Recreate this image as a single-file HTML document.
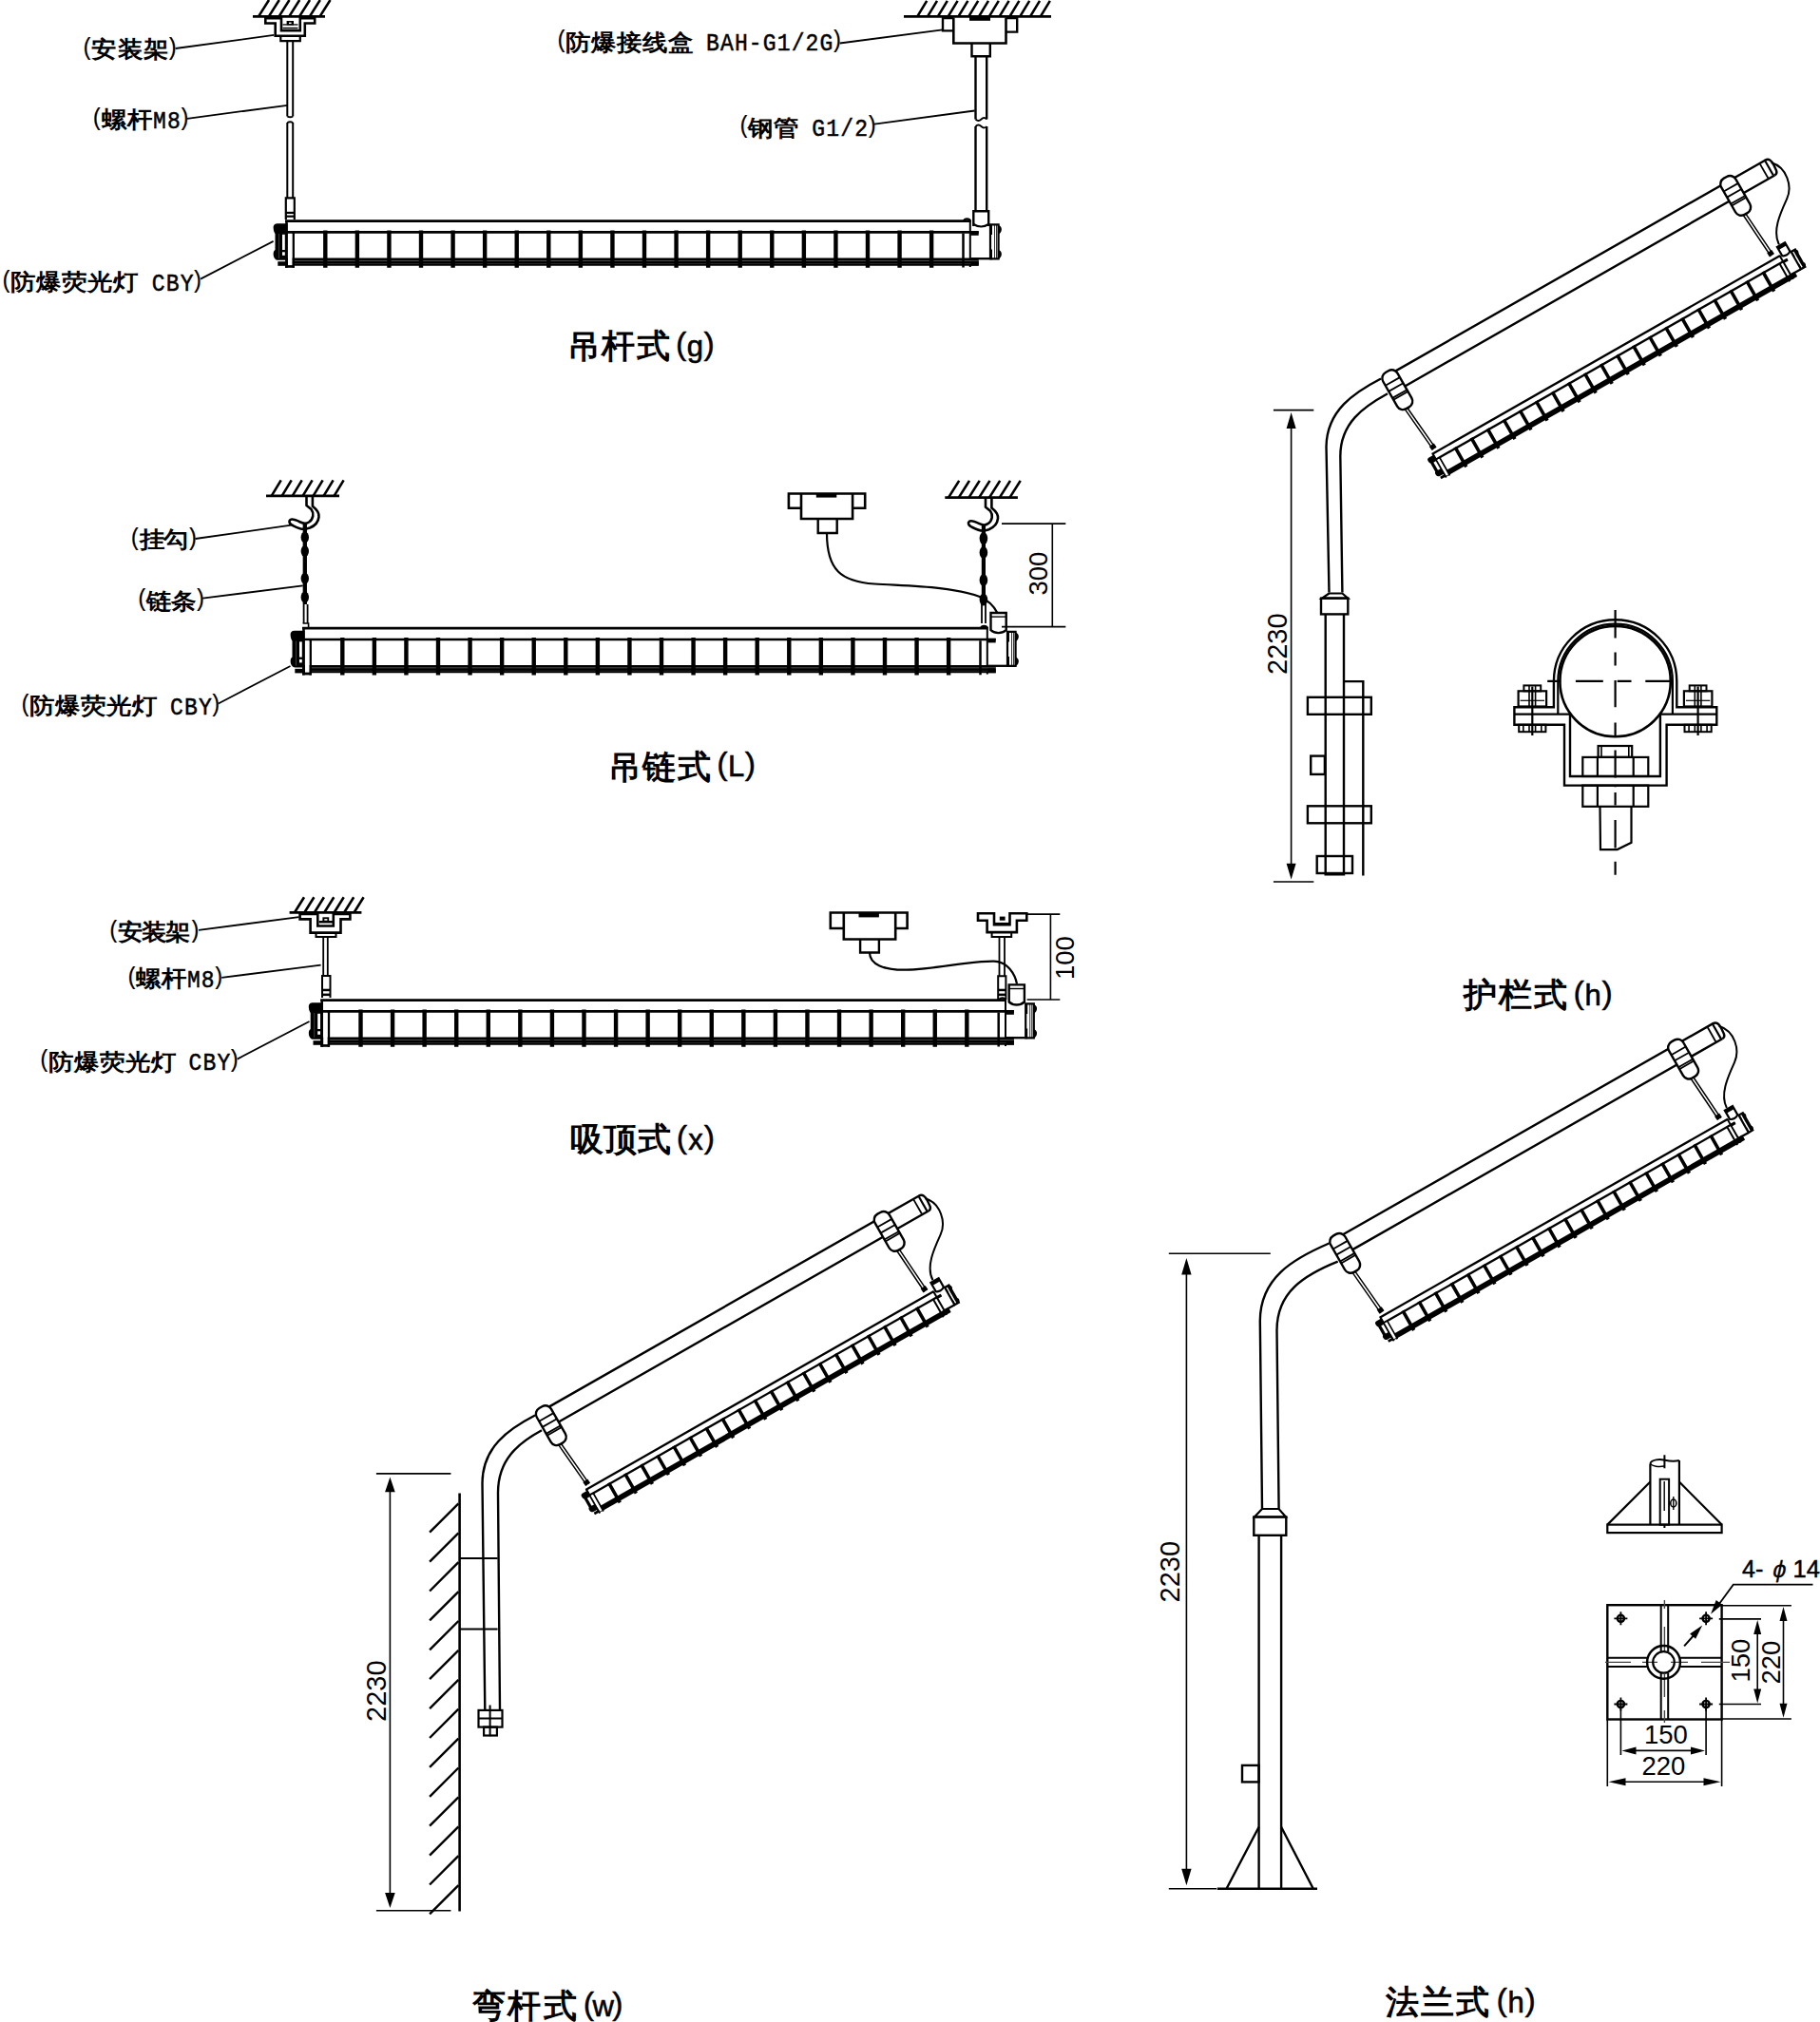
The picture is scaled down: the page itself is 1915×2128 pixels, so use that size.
<!DOCTYPE html>
<html><head><meta charset="utf-8"><title>fixtures</title>
<style>
html,body{margin:0;padding:0;background:#fff;}
body{width:1915px;height:2128px;position:relative;overflow:hidden;}
svg{position:absolute;left:0;top:0;}
</style></head><body>
<svg width="1915" height="2128" viewBox="0 0 1915 2128">
<defs><g id="lamp" fill="none" stroke="#000"><path d="M0.00,0.60H721.50" stroke-width="2.8"/><path d="M714.00,0.60c1.00-3.00 6.00-3.00 7.00,0.00" stroke-width="2.2"/><path d="M720.80,0.00V49.00" stroke-width="2"/><path d="M0.00,12.40H729.70" stroke-width="2.6"/><path d="M0.00,39.50H729.70V47.70H0.00Z" fill="#000" stroke="none"/><path d="M0.00,41.90H729.70V42.70H0.00Z" fill="#666" stroke="none"/><path d="M0.00,45.10H729.70V45.80H0.00Z" fill="#333" stroke="none"/><path d="M1.50,0.00V49.80M8.70,12.00V49.80M713.50,13.60V49.60" stroke-width="2.5"/><path d="M42.30,10.40V49.80M75.87,10.40V49.80M109.44,10.40V49.80M143.01,10.40V49.80M176.58,10.40V49.80M210.15,10.40V49.80M243.72,10.40V49.80M277.29,10.40V49.80M310.86,10.40V49.80M344.43,10.40V49.80M378.00,10.40V49.80M411.57,10.40V49.80M445.14,10.40V49.80M478.71,10.40V49.80M512.28,10.40V49.80M545.85,10.40V49.80M579.42,10.40V49.80M612.99,10.40V49.80M646.56,10.40V49.80M680.13,10.40V49.80" stroke-width="4.4"/><path d="M0.00,48.60H9.70" stroke-width="2.4"/><path d="M2.60,3.20H-8.50C-12.00,3.50 -12.50,6.00 -12.30,8.50C-12.20,11.50 -11.00,13.00 -10.50,14.00V31.00C-12.20,32.00 -12.50,34.00 -12.30,36.50C-12.00,39.50 -10.00,41.80 -7.50,41.80H2.60Z" fill="#000" stroke="none"/><path d="M-3.00,14.80H-0.20V31.00H-3.00Z" fill="#fff" stroke="none"/><path d="M-3.00,33.30H-0.20V36.80H-3.00Z" fill="#fff" stroke="none"/><path d="M-6.50,14.00V40.00" stroke-width="0.6" stroke="#666"/><path d="M3.00,14.00H7.40V47.00H3.00Z" fill="#fff" stroke="none"/><path d="M-7.70,43.20H2.60V47.80H-7.70Z" fill="#000" stroke="none"/><path d="M721.40,11.30H729.70V15.80H721.40Z" fill="#000" stroke="none"/><path d="M721.40,42.90H729.70V47.60H721.40Z" fill="#000" stroke="none"/><path d="M721.80,40.20H741.20" stroke-width="2.3"/><path d="M742.00,4.30H750.60V40.30H742.00Z" stroke-width="2.2"/><path d="M750.50,5.00C753.50,6.00 754.00,8.00 753.80,10.00C753.50,12.50 752.00,14.00 750.50,14.50ZM750.50,31.00C753.50,32.00 754.00,34.00 753.80,36.00C753.50,38.50 752.00,40.00 750.50,40.50Z" fill="#000" stroke="none"/><path d="M742.00,4.30V15.00H744.00V4.30ZM742.00,30.50V41.30H744.00V30.50Z" fill="#000" stroke="none"/><path d="M746.50,5.00V40.00M748.50,5.00V40.00" stroke-width="0.8"/></g><g id="lampS" fill="none" stroke="#000"><path d="M0.00,0.35H421.72" stroke-width="2.3"/><path d="M421.31,0.00V28.64" stroke-width="2"/><path d="M0.00,7.25H426.51" stroke-width="2.3"/><path d="M0.00,22.50H426.51V28.35H0.00Z" fill="#000" stroke="none"/><path d="M0.88,0.00V29.11M5.09,7.01V29.11M417.04,7.95V28.99" stroke-width="2.0"/><path d="M24.72,6.08V29.81M44.35,6.08V29.81M63.97,6.08V29.81M83.59,6.08V29.81M103.21,6.08V29.81M122.83,6.08V29.81M142.45,6.08V29.81M162.08,6.08V29.81M181.70,6.08V29.81M201.32,6.08V29.81M220.94,6.08V29.81M240.56,6.08V29.81M260.18,6.08V29.81M279.81,6.08V29.81M299.43,6.08V29.81M319.05,6.08V29.81M338.67,6.08V29.81M358.29,6.08V29.81M377.91,6.08V29.81M397.54,6.08V29.81" stroke-width="3.6"/><path d="M1.52,1.87H-4.97C-7.01,2.05 -7.31,3.51 -7.19,4.97C-7.13,6.72 -6.43,7.60 -6.14,8.18V18.12C-7.13,18.70 -7.31,19.87 -7.19,21.33C-7.01,23.09 -5.85,24.43 -4.38,24.43H1.52Z" fill="#000" stroke="none"/><path d="M-2.92,8.65H-0.12V18.12H-2.92Z" fill="#fff" stroke="none"/><path d="M1.75,8.18H4.33V27.47H1.75Z" fill="#fff" stroke="none"/><path d="M-4.50,25.25H1.52V27.94H-4.50Z" fill="#000" stroke="none"/><path d="M421.66,6.60H426.51V9.24H421.66Z" fill="#000" stroke="none"/><path d="M421.66,25.08H426.51V27.82H421.66Z" fill="#000" stroke="none"/><path d="M421.89,23.50H433.23" stroke-width="2.3"/><path d="M433.70,2.51H438.73V23.56H433.70Z" stroke-width="2.2"/><path d="M438.67,2.92C440.42,3.51 440.71,4.68 440.60,5.85C440.42,7.31 439.54,8.18 438.67,8.48ZM438.67,18.12C440.42,18.70 440.71,19.87 440.60,21.04C440.42,22.50 439.54,23.38 438.67,23.67Z" fill="#000" stroke="none"/><path d="M433.70,2.51V8.77H434.87V2.51ZM433.70,17.83V24.14H434.87V17.83Z" fill="#000" stroke="none"/><path d="M436.33,2.51H438.96V23.56H436.33Z" fill="#000" stroke="none"/></g><g id="conn" fill="none" stroke="#000"><path d="M724.5,-15.6H740.7V2.5C736,6.5 729,6.5 724.5,2.5Z" stroke-width="2.4"/><path d="M724.5,-11.5H740.7" stroke-width="1.4"/></g><g id="connS" fill="none" stroke="#000"><path d="M423.47,-9.12H432.94V1.46C430.19,3.80 426.10,3.80 423.47,1.46Z" stroke-width="2.2"/><path d="M423.47,-9.12H432.94V-5.55H423.47Z" fill="#000" stroke="none"/></g></defs>
<rect width="1915" height="2128" fill="#fff"/>
<g fill="none" stroke="#000" stroke-linecap="butt">
<path d="M266,17.4H342" stroke-width="2.8"/>
<path d="M272.0,17.4L283.0,0.0M282.8,17.4L293.8,0.0M293.5,17.4L304.5,0.0M304.2,17.4L315.2,0.0M315.0,17.4L326.0,0.0M325.8,17.4L336.8,0.0M336.5,17.4L347.5,0.0" stroke-width="2.6"/>
<path d="M279.3,19.3H296V32.2H315.8V19.3H331.2V24.5H320.8V37.8H289.7V24.5H279.3Z" stroke-width="2.6"/>
<rect x="301.6" y="22" width="7.4" height="4.4" fill="#000" stroke="none"/><rect x="304" y="23.6" width="2.6" height="1.5" fill="#fff" stroke="none"/>
<rect x="297.5" y="25.3" width="16" height="1.3" fill="#000" stroke="none"/>
<rect x="297.5" y="28.8" width="16" height="1.6" fill="#000" stroke="none"/>
<path d="M295.3,39V43.2H315.8V39" stroke-width="2.2"/>
<path d="M302.3,43V122.5M308.2,43V122.5M302.3,129V208M308.2,129V208" stroke-width="2"/>
<path d="M302.3,122.5q3,1.5 5.9,0M302.3,129q3,-1.5 5.9,0" stroke-width="1.8"/>
<path d="M300.8,231V208.3H309.8V231" stroke-width="2.2"/>
<rect x="301" y="222.8" width="8.6" height="2.2" fill="#000" stroke="none"/><rect x="301" y="226.6" width="8.6" height="2.2" fill="#000" stroke="none"/>
<path d="M951,17.4H1106" stroke-width="2.8"/>
<path d="M965.2,17.4L975.2,0.9M976.0,17.4L986.0,0.9M986.8,17.4L996.8,0.9M997.6,17.4L1007.6,0.9M1008.4,17.4L1018.4,0.9M1019.2,17.4L1029.2,0.9M1030.0,17.4L1040.0,0.9M1040.8,17.4L1050.8,0.9M1051.6,17.4L1061.6,0.9M1062.4,17.4L1072.4,0.9M1073.2,17.4L1083.2,0.9M1084.0,17.4L1094.0,0.9M1094.8,17.4L1104.8,0.9" stroke-width="2.6"/>
<path d="M1003.3,18.5V45.5H1058.5V18.5" stroke-width="2.6"/>
<path d="M1003.3,19H992V32.4H1003.3M1058.5,19H1070.2V33.6H1058.5" stroke-width="2.4"/>
<rect x="1020" y="17.4" width="22" height="4.4" fill="#000" stroke="none"/>
<path d="M1022.5,46V59.2H1041.8V46" stroke-width="2.4"/>
<path d="M1026.5,59.2V125.5M1038.2,59.2V125.5M1026.5,133V221M1038.2,133V221" stroke-width="2.4"/>
<path d="M1026.5,125.5q3,3 6,0t5.7,0M1026.5,133q3,-3 6,0t5.7,0" stroke-width="1.8"/>
<path d="M1024.3,238V222.2H1040.2V238" stroke-width="2.4"/>
<path d="M1024.3,236q8,5 15.9,0" stroke-width="2.2"/>
<use href="#lamp" transform="translate(300,232)"/>
<path d="M184.6,51L288.3,36.9M197,124.8L302.4,110.8M211,293.6L287.6,253.9M883.6,45.5L991.7,31.4M920,130.6L1025.6,116.5" stroke-width="1.8"/>
<path d="M280,521.9H357" stroke-width="2.8"/>
<path d="M285.7,521.9L295.7,505.4M296.7,521.9L306.7,505.4M307.7,521.9L317.7,505.4M318.6,521.9L328.6,505.4M329.6,521.9L339.6,505.4M340.6,521.9L350.6,505.4M351.6,521.9L361.6,505.4" stroke-width="2.6"/>
<path d="M322.5,522.5V532L327.5,536C330.5,540 330,546 325,549.5C322,551.5 319,551 316,549.5C312,547.5 308,545.5 305.5,547C303.5,548.5 304.5,551 307,552.5C311,554.5 315,557 320,556.8" stroke-width="2.6"/><path d="M328.9,522.5V532.8C333,536 336,540 335.5,544C335,549 331,553.5 326,555.5C323,556.5 321,556.8 320,556.8" stroke-width="2.6"/>
<path d="M320.8,551V636" stroke-width="4.3"/>
<ellipse cx="320.8" cy="565.4" rx="4.2" ry="6" fill="#000" stroke="none"/>
<ellipse cx="320.8" cy="580.0" rx="4.2" ry="6" fill="#000" stroke="none"/>
<ellipse cx="320.8" cy="608.7" rx="4.2" ry="6" fill="#000" stroke="none"/>
<ellipse cx="320.8" cy="628.5" rx="4.2" ry="6" fill="#000" stroke="none"/>
<path d="M319.6,636V656M323.6,636V656" stroke-width="1.8"/>
<path d="M318.6,656H324.6V660" stroke-width="1.6"/>
<path d="M994.3,523.6H1070.9" stroke-width="2.8"/>
<path d="M998.0,523.6L1009.2,505.9M1008.8,523.6L1020.0,505.9M1019.5,523.6L1030.7,505.9M1030.2,523.6L1041.5,505.9M1041.0,523.6L1052.2,505.9M1051.8,523.6L1063.0,505.9M1062.5,523.6L1073.7,505.9" stroke-width="2.6"/>
<g transform="translate(714.5,1.7)"><path d="M322.5,522.5V532L327.5,536C330.5,540 330,546 325,549.5C322,551.5 319,551 316,549.5C312,547.5 308,545.5 305.5,547C303.5,548.5 304.5,551 307,552.5C311,554.5 315,557 320,556.8" stroke-width="2.6"/><path d="M328.9,522.5V532.8C333,536 336,540 335.5,544C335,549 331,553.5 326,555.5C323,556.5 321,556.8 320,556.8" stroke-width="2.6"/></g>
<path d="M1034.9,552V636" stroke-width="4.2"/>
<ellipse cx="1034.9" cy="566.6" rx="4.3" ry="6.5" fill="#000" stroke="none"/>
<ellipse cx="1034.9" cy="581.5" rx="4.3" ry="6.5" fill="#000" stroke="none"/>
<ellipse cx="1034.9" cy="610.5" rx="4.3" ry="6.5" fill="#000" stroke="none"/>
<ellipse cx="1034.9" cy="631.0" rx="4.3" ry="6.5" fill="#000" stroke="none"/>
<path d="M1033,636V656M1037,636V656" stroke-width="1.8"/>
<path d="M843,519.5V546H897.1V519.5H843ZM843,519.5H829.9V534.8H843M897.1,519.5H910.2V534.8H897.1" stroke-width="2.6"/>
<rect x="858.8" y="519" width="21.5" height="4.6" fill="#000" stroke="none"/>
<path d="M860.7,546V561H880.7V546" stroke-width="2.4"/>
<path d="M870,561C870,600 885,612 920,614.5C960,617 1000,617 1031.6,628.2C1040,632 1046,638 1049.4,645" stroke-width="2.2"/>
<use href="#lamp" transform="translate(318,660.6)"/>
<use href="#conn" transform="translate(318,660.6)"/>
<path d="M1054,551.1H1121.3M1054,659.6H1121.3M1107.3,551.1V659.6" stroke-width="1.6"/>
<path d="M205.5,567L306.6,552.6M213.2,629.6L318.7,616.4M229.7,740.5L305.5,701" stroke-width="1.8"/>
<path d="M304.6,960.3H380.4" stroke-width="2.8"/>
<path d="M310.0,960.3L320.0,944.3M320.4,960.3L330.4,944.3M330.9,960.3L340.9,944.3M341.3,960.3L351.3,944.3M351.7,960.3L361.7,944.3M362.2,960.3L372.2,944.3M372.6,960.3L382.6,944.3" stroke-width="2.6"/>
<path d="M315.6,962H334.3V974.5H350.8V962H368.4V967.4H358.5V981.6H326.6V967.4H315.6Z" stroke-width="2.6"/>
<rect x="339.4" y="965.3" width="6.8" height="3.9" fill="#000" stroke="none"/><rect x="341.3" y="967.1" width="3.1" height="1.6" fill="#fff" stroke="none"/>
<rect x="335.7" y="969" width="15.5" height="2.5" fill="#000" stroke="none"/>
<path d="M332.5,982V986H353.5V982" stroke-width="2"/>
<path d="M340.2,986V1026.7M344.8,986V1026.7" stroke-width="1.8"/>
<path d="M339,1050V1027H347.5V1050" stroke-width="2"/>
<rect x="339" y="1040.7" width="8.5" height="2.5" fill="#000" stroke="none"/><rect x="339" y="1045.6" width="8.5" height="2.5" fill="#000" stroke="none"/>
<path d="M1029,961.3H1046V973.2H1062.5V961.3H1080.3V968.7H1069.9V981.1H1038.6V968.7H1029Z" stroke-width="2.6"/>
<rect x="1051.8" y="964.6" width="5.8" height="4.1" fill="#000" stroke="none"/>
<path d="M1046,971.5H1062.5" stroke-width="1.2"/>
<path d="M1043.6,982V986H1064.2V982" stroke-width="2"/>
<path d="M1051.5,986V1027M1057,986V1027" stroke-width="1.8"/>
<path d="M1050.2,1052V1027.2H1058.4V1052" stroke-width="2"/>
<rect x="1050.3" y="1040.7" width="8" height="2.5" fill="#000" stroke="none"/><rect x="1050.3" y="1045.6" width="8" height="2.5" fill="#000" stroke="none"/>
<path d="M887.8,960.5V988.5H942.2V960.5H887.8ZM887.8,960.5H873.8V977H887.8M942.2,960.5H954.6V977H942.2" stroke-width="2.6"/>
<rect x="903.5" y="960" width="21.4" height="5.4" fill="#000" stroke="none"/>
<path d="M905.1,988.5V1002.5H924.9V988.5" stroke-width="2.4"/>
<path d="M915,1002.5C915,1015 930,1021 953.7,1020.7C985,1020 1020,1011 1046,1011.6C1060,1012 1068,1025 1070,1035.5" stroke-width="2.2"/>
<use href="#lamp" transform="translate(337.2,1052)"/>
<use href="#conn" transform="translate(337.2,1052)"/>
<path d="M1080.6,962.1H1115.3M1080.6,1052H1115.3M1105.4,962.1V1052" stroke-width="1.6"/>
<path d="M209,978.8L314.5,965.2M233.2,1028.9L337.6,1015.7M249.7,1114.6L325.5,1075" stroke-width="1.8"/>
<g transform="translate(1505.10,476.90) rotate(-29.70)"><path d="M0,-93.3H459M0,-74.5H459.5" stroke-width="2.4"/><path d="M458.5,-93.3C463,-93.5 464.5,-90 464,-84L463.5,-78C463,-75 461.5,-74.5 459.5,-74.5" stroke-width="2.4"/><path d="M452,-92.5V-75.3" stroke-width="1.8"/><path d="M458.3,-92.5V-75.3" stroke-width="2.2"/><path d="M-0.39,-52.86L4.31,-1.86M2.59,-53.14L7.29,-2.14" stroke-width="1.5"/><g transform="translate(5.80,-2.00) rotate(-5.27)"><path d="M-3,-5H3V0H-3Z" fill="#000" stroke="none"/></g><rect x="-5.90" y="-97.20" width="17.5" height="44" rx="7" ry="7" fill="#fff" stroke-width="2.4"/><path d="M-5.90,-85.20H11.60M-5.90,-78.20H11.60M-5.90,-70.20H11.60M-5.90,-68.00H11.60" stroke-width="1.8"/><path d="M410.00,-54.39L413.80,-2.69M413.00,-54.61L416.80,-2.91" stroke-width="1.5"/><g transform="translate(415.30,-2.80) rotate(-4.20)"><path d="M-3,-5H3V0H-3Z" fill="#000" stroke="none"/></g><rect x="404.45" y="-98.30" width="17.5" height="44" rx="7" ry="7" fill="#fff" stroke-width="2.4"/><path d="M404.45,-86.30H421.95M404.45,-79.30H421.95M404.45,-71.30H421.95M404.45,-69.10H421.95" stroke-width="1.8"/><path d="M463,-88C475,-75 470,-55 458.3,-46.6C445,-37 428,-25 427.5,-9" stroke-width="2"/><g transform="translate(0.9,1.4)"><use href="#lampS"/><use href="#connS"/></g></g>
<path d="M1453,398.5C1425,413 1396,432 1395.5,470L1398.5,623.5" stroke-width="2.4"/>
<path d="M1460,414.3C1435,428 1410.3,445 1410.3,480L1412.4,623.5" stroke-width="2.4"/>
<path d="M1398.5,624.5L1391,629.6H1418.3L1412.4,624.5Z" stroke-width="2.2"/>
<rect x="1390" y="629.6" width="28.3" height="16.8" stroke-width="2.4"/>
<path d="M1394.7,646.4V920.3H1414V646.4" stroke-width="2.4"/>
<path d="M1414.5,717.1H1434.3V921.6" stroke-width="2.4"/>
<rect x="1375.9" y="733.8" width="66.9" height="18" fill="none" stroke-width="2.4"/>
<rect x="1375.9" y="848.3" width="66.9" height="18" fill="none" stroke-width="2.4"/>
<rect x="1379.2" y="795.6" width="14.7" height="19.3" stroke-width="2.4"/>
<rect x="1385.7" y="901" width="37.3" height="18" stroke-width="2.4"/>
<path d="M1339.9,431.6H1382.3M1339.9,928H1382.3M1358.6,448V911" stroke-width="1.6"/>
<path d="M1358.6,434.1L1353.6,451H1363.6ZM1358.6,925.5L1353.6,908.7H1363.6Z" fill="#000" stroke="none"/>
<g transform="translate(614.60,1566.90) rotate(-29.70)"><path d="M0,-93.3H459M0,-74.5H459.5" stroke-width="2.4"/><path d="M458.5,-93.3C463,-93.5 464.5,-90 464,-84L463.5,-78C463,-75 461.5,-74.5 459.5,-74.5" stroke-width="2.4"/><path d="M452,-92.5V-75.3" stroke-width="1.8"/><path d="M458.3,-92.5V-75.3" stroke-width="2.2"/><path d="M-0.39,-52.86L4.31,-1.86M2.59,-53.14L7.29,-2.14" stroke-width="1.5"/><g transform="translate(5.80,-2.00) rotate(-5.27)"><path d="M-3,-5H3V0H-3Z" fill="#000" stroke="none"/></g><rect x="-5.90" y="-97.20" width="17.5" height="44" rx="7" ry="7" fill="#fff" stroke-width="2.4"/><path d="M-5.90,-85.20H11.60M-5.90,-78.20H11.60M-5.90,-70.20H11.60M-5.90,-68.00H11.60" stroke-width="1.8"/><path d="M410.00,-54.39L413.80,-2.69M413.00,-54.61L416.80,-2.91" stroke-width="1.5"/><g transform="translate(415.30,-2.80) rotate(-4.20)"><path d="M-3,-5H3V0H-3Z" fill="#000" stroke="none"/></g><rect x="404.45" y="-98.30" width="17.5" height="44" rx="7" ry="7" fill="#fff" stroke-width="2.4"/><path d="M404.45,-86.30H421.95M404.45,-79.30H421.95M404.45,-71.30H421.95M404.45,-69.10H421.95" stroke-width="1.8"/><path d="M463,-88C475,-75 470,-55 458.3,-46.6C445,-37 428,-25 427.5,-9" stroke-width="2"/><g transform="translate(0.9,1.4)"><use href="#lampS"/><use href="#connS"/></g></g>
<path d="M563,1489.5C535,1504 507.5,1523 507.5,1561L510.3,1800" stroke-width="2.4"/>
<path d="M570,1505.3C545,1519 524,1536 524,1571L526,1800" stroke-width="2.4"/>
<rect x="503.5" y="1799.9" width="25" height="17.7" stroke-width="2.2"/>
<rect x="509.1" y="1817.6" width="13.8" height="8.9" stroke-width="2.2"/>
<path d="M515.6,1794.5V1827.3M503.5,1808.6H528.5" stroke-width="2"/>
<path d="M483.6,1571.5V2011.5" stroke-width="2.6"/>
<path d="M482.4,1582.4L452.1,1612.7M482.4,1613.3L452.1,1643.6M482.4,1644.2L452.1,1674.5M482.4,1675.1L452.1,1705.4M482.4,1706.0L452.1,1736.3M482.4,1736.9L452.1,1767.2M482.4,1767.8L452.1,1798.1M482.4,1798.7L452.1,1829.0M482.4,1829.6L452.1,1859.9M482.4,1860.5L452.1,1890.8M482.4,1891.4L452.1,1921.7M482.4,1922.3L452.1,1952.6M482.4,1953.2L452.1,1983.5M482.4,1984.1L452.1,2014.4" stroke-width="2.4"/>
<path d="M483.6,1639.9H523.6M483.6,1714.5H523.6" stroke-width="2"/>
<path d="M395.9,1550.9H474.4M395.9,2010.8H474.4M410.4,1566V1995" stroke-width="1.6"/>
<path d="M410.4,1554.5L405.1,1570.3H415.7ZM410.4,2007.9L405.1,1992.1H415.7Z" fill="#000" stroke="none"/>
<g transform="translate(1450.00,1385.60) rotate(-29.70)"><path d="M0,-93.3H459M0,-74.5H459.5" stroke-width="2.4"/><path d="M458.5,-93.3C463,-93.5 464.5,-90 464,-84L463.5,-78C463,-75 461.5,-74.5 459.5,-74.5" stroke-width="2.4"/><path d="M452,-92.5V-75.3" stroke-width="1.8"/><path d="M458.3,-92.5V-75.3" stroke-width="2.2"/><path d="M-0.39,-52.86L4.31,-1.86M2.59,-53.14L7.29,-2.14" stroke-width="1.5"/><g transform="translate(5.80,-2.00) rotate(-5.27)"><path d="M-3,-5H3V0H-3Z" fill="#000" stroke="none"/></g><rect x="-5.90" y="-97.20" width="17.5" height="44" rx="7" ry="7" fill="#fff" stroke-width="2.4"/><path d="M-5.90,-85.20H11.60M-5.90,-78.20H11.60M-5.90,-70.20H11.60M-5.90,-68.00H11.60" stroke-width="1.8"/><path d="M410.00,-54.39L413.80,-2.69M413.00,-54.61L416.80,-2.91" stroke-width="1.5"/><g transform="translate(415.30,-2.80) rotate(-4.20)"><path d="M-3,-5H3V0H-3Z" fill="#000" stroke="none"/></g><rect x="404.45" y="-98.30" width="17.5" height="44" rx="7" ry="7" fill="#fff" stroke-width="2.4"/><path d="M404.45,-86.30H421.95M404.45,-79.30H421.95M404.45,-71.30H421.95M404.45,-69.10H421.95" stroke-width="1.8"/><path d="M463,-88C475,-75 470,-55 458.3,-46.6C445,-37 428,-25 427.5,-9" stroke-width="2"/><g transform="translate(0.9,1.4)"><use href="#lampS"/><use href="#connS"/></g></g>
<path d="M1398.5,1308.5C1360,1325 1326,1345 1325.8,1390L1328,1587.7" stroke-width="2.4"/>
<path d="M1407.7,1327.7C1372,1342 1343.5,1360 1343.5,1400L1345.6,1587.7" stroke-width="2.4"/>
<path d="M1328,1588L1320,1596.5H1353L1345.6,1588Z" stroke-width="2.2"/>
<rect x="1319.3" y="1596.5" width="34" height="19.3" stroke-width="2.4"/>
<path d="M1324.6,1615.8V1987.7M1348.1,1615.8V1987.7" stroke-width="2.4"/>
<rect x="1307" y="1857.9" width="17.6" height="17.5" stroke-width="2.4"/>
<path d="M1324.6,1922.8L1290.5,1987.7M1348.1,1922.8L1381.8,1987.7M1280.7,1987.7H1386" stroke-width="2.4"/>
<path d="M1229.8,1319.3H1336.8M1229.8,1987.7H1280M1248.4,1338V1970" stroke-width="1.6"/>
<path d="M1248.4,1323.9L1243.2,1341.4H1253.6ZM1248.4,1984.2L1243.2,1966.7H1253.6Z" fill="#000" stroke="none"/>
<circle cx="1699.6" cy="717.1" r="58.2" stroke-width="2.6"/>
<path d="M1634.9,717A64.7,64.7 0 0 1 1764.3,717V744.2H1806.3V762.8H1753.6V826.6H1646V762.8H1593.4V744.2H1634.9Z" stroke-width="2.4"/>
<path d="M1639.3,717A60.3,60.3 0 0 1 1759.9,717V751.7" stroke-width="2.2"/>
<path d="M1639.3,717V751.7" stroke-width="2.2"/>
<path d="M1593.4,751.7H1651.8M1746.6,751.7H1806.3" stroke-width="2.2"/>
<path d="M1652,751.7V817H1746.9V751.7" stroke-width="2.4"/>
<rect x="1597.6" y="727.3" width="29.5" height="16.2" stroke-width="2.2"/>
<rect x="1603.4" y="721.4" width="17.8" height="5.9" stroke-width="2"/>
<path d="M1599.6,737.3H1625.0" stroke-width="1.2"/>
<path d="M1609.0,721.4V743.5M1615.6,721.4V743.5" stroke-width="1.6"/>
<rect x="1598.2" y="762.8" width="28.2" height="7.4" stroke-width="2"/>
<path d="M1602.8,762.8V770.2M1609.0,762.8V770.2M1615.6,762.8V770.2M1621.8,762.8V770.2" stroke-width="1.6"/>
<path d="M1612.3,722.5V774" stroke-width="2.2"/>
<rect x="1771.9" y="727.3" width="29.5" height="16.2" stroke-width="2.2"/>
<rect x="1777.7" y="721.4" width="17.8" height="5.9" stroke-width="2"/>
<path d="M1773.9,737.3H1799.3" stroke-width="1.2"/>
<path d="M1783.3,721.4V743.5M1789.9,721.4V743.5" stroke-width="1.6"/>
<rect x="1772.5" y="762.8" width="28.2" height="7.4" stroke-width="2"/>
<path d="M1777.1,762.8V770.2M1783.3,762.8V770.2M1789.9,762.8V770.2M1796.1,762.8V770.2" stroke-width="1.6"/>
<path d="M1786.6,722.5V774" stroke-width="2.2"/>
<rect x="1681.6" y="785" width="35.6" height="11.9" stroke-width="2.2"/>
<path d="M1685,786V796.9M1713.8,786V796.9" stroke-width="1.6"/>
<rect x="1665.3" y="796.9" width="69" height="20.1" stroke-width="2.2"/>
<path d="M1680.9,796.9V817M1718.7,796.9V817" stroke-width="2.2"/>
<rect x="1665.3" y="826.6" width="69" height="22.2" stroke-width="2.2"/>
<path d="M1680.9,826.6V848.8M1718.7,826.6V848.8" stroke-width="2.2"/>
<path d="M1683.5,848.8L1684,894.1H1701.7L1716.5,886.7V848.8" stroke-width="2.2"/>
<path d="M1699.6,641.9V671.5M1699.6,686.4V700.5M1699.6,716V744.2M1699.6,760.6V774.7M1699.6,789.5V818.4M1699.6,826.3V828.2M1699.6,834V847.4M1699.6,863V892.6M1699.6,906.7V920.8" stroke-width="2.2"/>
<path d="M1628.2,716.8H1642.3M1657.9,716.8H1686.8M1701.7,716.8H1716.5M1731.3,716.8H1760.3" stroke-width="2.2"/>
<rect x="1691.3" y="1604.6" width="120.3" height="8.5" stroke-width="2.2"/>
<path d="M1736.4,1604.6V1540.5M1766.9,1604.6V1537" stroke-width="2.2"/>
<path d="M1736.4,1540C1738,1536 1746,1535.5 1751,1536.5C1756,1537.5 1760,1538.5 1766.9,1537" stroke-width="2"/>
<path d="M1736.4,1540C1738,1543.5 1746,1544 1751,1543" stroke-width="1.6"/>
<path d="M1736.4,1559.5L1691.3,1604.6M1766.9,1559.5L1811.6,1604.6" stroke-width="2.2"/>
<rect x="1746.7" y="1556.7" width="9.4" height="47.9" stroke-width="2"/>
<path d="M1751.2,1559V1590" stroke-width="1.4"/>
<path d="M1751.4,1531.3V1545.3M1751.4,1604V1608" stroke-width="2"/>
<ellipse cx="1760.8" cy="1582" rx="3" ry="4" stroke-width="1.6"/><path d="M1760.8,1575V1589" stroke-width="1.4"/>
<rect x="1691.3" y="1689.2" width="120.3" height="120.3" stroke-width="2.4"/>
<path d="M1747.7,1689.2V1738M1755.2,1689.2V1738M1747.7,1760.8V1809.5M1755.2,1760.8V1809.5" stroke-width="2"/>
<path d="M1691.3,1744.7H1733M1691.3,1754.1H1733M1768,1744.7H1811.6M1768,1754.1H1811.6" stroke-width="2"/>
<path d="M1751.4,1684V1693M1751.4,1712V1738M1751.4,1762V1786M1751.4,1800V1813M1689,1749.4H1716M1728,1749.4H1744M1758,1749.4H1776M1790,1749.4H1820" stroke-width="1.4" stroke="#444"/>
<circle cx="1750.5" cy="1749.4" r="17.4" stroke-width="2.4"/>
<circle cx="1750.5" cy="1749.4" r="11.3" stroke-width="2.2"/>
<circle cx="1705.4" cy="1703.3" r="3.6" stroke-width="2.4"/>
<path d="M1698.4,1703.3H1712.4M1705.4,1696.3V1710.3" stroke-width="1.8"/>
<circle cx="1795.1" cy="1703.3" r="3.6" stroke-width="2.4"/>
<path d="M1788.1,1703.3H1802.1M1795.1,1696.3V1710.3" stroke-width="1.8"/>
<circle cx="1705.4" cy="1793.5" r="3.6" stroke-width="2.4"/>
<path d="M1698.4,1793.5H1712.4M1705.4,1786.5V1800.5" stroke-width="1.8"/>
<circle cx="1795.1" cy="1793.5" r="3.6" stroke-width="2.4"/>
<path d="M1788.1,1793.5H1802.1M1795.1,1786.5V1800.5" stroke-width="1.8"/>
<path d="M1808.8,1703.9H1853M1808.8,1793.5H1853M1849.2,1712V1786" stroke-width="1.6"/>
<path d="M1849.2,1705L1845.2,1720H1853.2ZM1849.2,1792.4L1845.2,1777.4H1853.2Z" fill="#000" stroke="none"/>
<path d="M1811.6,1689.8H1884.9M1811.6,1809H1884.9M1876.5,1700V1800" stroke-width="1.6"/>
<path d="M1876.5,1691L1872.5,1706H1880.5ZM1876.5,1807.8L1872.5,1792.8H1880.5Z" fill="#000" stroke="none"/>
<path d="M1705.4,1795V1847.1M1795.1,1795V1847.1M1712,1842.4H1788" stroke-width="1.6"/>
<path d="M1706.5,1842.4L1721.5,1838.4V1846.4ZM1794,1842.4L1779,1838.4V1846.4Z" fill="#000" stroke="none"/>
<path d="M1691.3,1810V1880M1811.6,1810V1880M1700,1875.3H1803" stroke-width="1.6"/>
<path d="M1692.5,1875.3L1710.5,1871.3V1879.3ZM1810.5,1875.3L1792.5,1871.3V1879.3Z" fill="#000" stroke="none"/>
<path d="M1907.5,1667.6H1823.8L1806,1692" stroke-width="1.8"/>
<path d="M1800,1698.8L1805.7,1684L1812.1,1688.8Z" fill="#000" stroke="none"/>
<path d="M1772.1,1732.4L1783,1720" stroke-width="2"/>
<path d="M1791.2,1710.5L1778.1,1719.5L1784.1,1724.7Z" fill="#000" stroke="none"/>
</g>
<g fill="#000" stroke="none"><text transform="translate(92.25,57.85) scale(0.920,1)" font-family="'Liberation Mono',monospace" font-weight="normal" font-size="25.00" text-anchor="middle" stroke="#000" stroke-width="0.2">(</text><text transform="translate(109.45,60.15) scale(1.100,1)" font-family="'Liberation Sans',sans-serif" font-weight="bold" font-size="24.00" text-anchor="middle">安</text><text transform="translate(136.65,60.15) scale(1.100,1)" font-family="'Liberation Sans',sans-serif" font-weight="bold" font-size="24.00" text-anchor="middle">装</text><text transform="translate(163.85,60.15) scale(1.100,1)" font-family="'Liberation Sans',sans-serif" font-weight="bold" font-size="24.00" text-anchor="middle">架</text><text transform="translate(181.25,57.85) scale(0.920,1)" font-family="'Liberation Mono',monospace" font-weight="normal" font-size="25.00" text-anchor="middle" stroke="#000" stroke-width="0.2">)</text><text transform="translate(102.40,132.00) scale(0.920,1)" font-family="'Liberation Mono',monospace" font-weight="normal" font-size="25.00" text-anchor="middle" stroke="#000" stroke-width="0.2">(</text><text transform="translate(119.60,134.30) scale(1.100,1)" font-family="'Liberation Sans',sans-serif" font-weight="bold" font-size="24.00" text-anchor="middle">螺</text><text transform="translate(146.74,134.30) scale(1.100,1)" font-family="'Liberation Sans',sans-serif" font-weight="bold" font-size="24.00" text-anchor="middle">杆</text><text transform="translate(167.85,135.00) scale(0.920,1)" font-family="'Liberation Mono',monospace" font-weight="normal" font-size="25.00" text-anchor="middle" stroke="#000" stroke-width="0.5">M</text><text transform="translate(182.93,135.00) scale(0.920,1)" font-family="'Liberation Mono',monospace" font-weight="normal" font-size="25.00" text-anchor="middle" stroke="#000" stroke-width="0.5">8</text><text transform="translate(193.78,132.00) scale(0.920,1)" font-family="'Liberation Mono',monospace" font-weight="normal" font-size="25.00" text-anchor="middle" stroke="#000" stroke-width="0.2">)</text><text transform="translate(7.14,303.15) scale(0.920,1)" font-family="'Liberation Mono',monospace" font-weight="normal" font-size="25.00" text-anchor="middle" stroke="#000" stroke-width="0.2">(</text><text transform="translate(24.34,305.45) scale(1.100,1)" font-family="'Liberation Sans',sans-serif" font-weight="bold" font-size="24.00" text-anchor="middle">防</text><text transform="translate(51.39,305.45) scale(1.100,1)" font-family="'Liberation Sans',sans-serif" font-weight="bold" font-size="24.00" text-anchor="middle">爆</text><text transform="translate(78.44,305.45) scale(1.100,1)" font-family="'Liberation Sans',sans-serif" font-weight="bold" font-size="24.00" text-anchor="middle">荧</text><text transform="translate(105.50,305.45) scale(1.100,1)" font-family="'Liberation Sans',sans-serif" font-weight="bold" font-size="24.00" text-anchor="middle">光</text><text transform="translate(132.55,305.45) scale(1.100,1)" font-family="'Liberation Sans',sans-serif" font-weight="bold" font-size="24.00" text-anchor="middle">灯</text><text transform="translate(166.61,306.15) scale(0.920,1)" font-family="'Liberation Mono',monospace" font-weight="normal" font-size="25.00" text-anchor="middle" stroke="#000" stroke-width="0.5">C</text><text transform="translate(181.64,306.15) scale(0.920,1)" font-family="'Liberation Mono',monospace" font-weight="normal" font-size="25.00" text-anchor="middle" stroke="#000" stroke-width="0.5">B</text><text transform="translate(196.67,306.15) scale(0.920,1)" font-family="'Liberation Mono',monospace" font-weight="normal" font-size="25.00" text-anchor="middle" stroke="#000" stroke-width="0.5">Y</text><text transform="translate(207.52,303.15) scale(0.920,1)" font-family="'Liberation Mono',monospace" font-weight="normal" font-size="25.00" text-anchor="middle" stroke="#000" stroke-width="0.2">)</text><text transform="translate(591.22,50.45) scale(0.920,1)" font-family="'Liberation Mono',monospace" font-weight="normal" font-size="25.00" text-anchor="middle" stroke="#000" stroke-width="0.2">(</text><text transform="translate(608.42,52.75) scale(1.100,1)" font-family="'Liberation Sans',sans-serif" font-weight="bold" font-size="24.00" text-anchor="middle">防</text><text transform="translate(635.32,52.75) scale(1.100,1)" font-family="'Liberation Sans',sans-serif" font-weight="bold" font-size="24.00" text-anchor="middle">爆</text><text transform="translate(662.22,52.75) scale(1.100,1)" font-family="'Liberation Sans',sans-serif" font-weight="bold" font-size="24.00" text-anchor="middle">接</text><text transform="translate(689.12,52.75) scale(1.100,1)" font-family="'Liberation Sans',sans-serif" font-weight="bold" font-size="24.00" text-anchor="middle">线</text><text transform="translate(716.02,52.75) scale(1.100,1)" font-family="'Liberation Sans',sans-serif" font-weight="bold" font-size="24.00" text-anchor="middle">盒</text><text transform="translate(749.90,53.45) scale(0.920,1)" font-family="'Liberation Mono',monospace" font-weight="normal" font-size="25.00" text-anchor="middle" stroke="#000" stroke-width="0.5">B</text><text transform="translate(764.84,53.45) scale(0.920,1)" font-family="'Liberation Mono',monospace" font-weight="normal" font-size="25.00" text-anchor="middle" stroke="#000" stroke-width="0.5">A</text><text transform="translate(779.79,53.45) scale(0.920,1)" font-family="'Liberation Mono',monospace" font-weight="normal" font-size="25.00" text-anchor="middle" stroke="#000" stroke-width="0.5">H</text><text transform="translate(794.73,53.45) scale(0.920,1)" font-family="'Liberation Mono',monospace" font-weight="normal" font-size="25.00" text-anchor="middle" stroke="#000" stroke-width="0.5">-</text><text transform="translate(809.68,53.45) scale(0.920,1)" font-family="'Liberation Mono',monospace" font-weight="normal" font-size="25.00" text-anchor="middle" stroke="#000" stroke-width="0.5">G</text><text transform="translate(824.62,53.45) scale(0.920,1)" font-family="'Liberation Mono',monospace" font-weight="normal" font-size="25.00" text-anchor="middle" stroke="#000" stroke-width="0.5">1</text><text transform="translate(839.57,53.45) scale(0.920,1)" font-family="'Liberation Mono',monospace" font-weight="normal" font-size="25.00" text-anchor="middle" stroke="#000" stroke-width="0.5">/</text><text transform="translate(854.51,53.45) scale(0.920,1)" font-family="'Liberation Mono',monospace" font-weight="normal" font-size="25.00" text-anchor="middle" stroke="#000" stroke-width="0.5">2</text><text transform="translate(869.45,53.45) scale(0.920,1)" font-family="'Liberation Mono',monospace" font-weight="normal" font-size="25.00" text-anchor="middle" stroke="#000" stroke-width="0.5">G</text><text transform="translate(880.30,50.45) scale(0.920,1)" font-family="'Liberation Mono',monospace" font-weight="normal" font-size="25.00" text-anchor="middle" stroke="#000" stroke-width="0.2">)</text><text transform="translate(783.08,140.25) scale(0.920,1)" font-family="'Liberation Mono',monospace" font-weight="normal" font-size="25.00" text-anchor="middle" stroke="#000" stroke-width="0.2">(</text><text transform="translate(800.28,142.55) scale(1.100,1)" font-family="'Liberation Sans',sans-serif" font-weight="bold" font-size="24.00" text-anchor="middle">钢</text><text transform="translate(827.26,142.55) scale(1.100,1)" font-family="'Liberation Sans',sans-serif" font-weight="bold" font-size="24.00" text-anchor="middle">管</text><text transform="translate(861.24,143.25) scale(0.920,1)" font-family="'Liberation Mono',monospace" font-weight="normal" font-size="25.00" text-anchor="middle" stroke="#000" stroke-width="0.5">G</text><text transform="translate(876.23,143.25) scale(0.920,1)" font-family="'Liberation Mono',monospace" font-weight="normal" font-size="25.00" text-anchor="middle" stroke="#000" stroke-width="0.5">1</text><text transform="translate(891.22,143.25) scale(0.920,1)" font-family="'Liberation Mono',monospace" font-weight="normal" font-size="25.00" text-anchor="middle" stroke="#000" stroke-width="0.5">/</text><text transform="translate(906.21,143.25) scale(0.920,1)" font-family="'Liberation Mono',monospace" font-weight="normal" font-size="25.00" text-anchor="middle" stroke="#000" stroke-width="0.5">2</text><text transform="translate(917.06,140.25) scale(0.920,1)" font-family="'Liberation Mono',monospace" font-weight="normal" font-size="25.00" text-anchor="middle" stroke="#000" stroke-width="0.2">)</text><text transform="translate(142.42,574.00) scale(0.920,1)" font-family="'Liberation Mono',monospace" font-weight="normal" font-size="25.00" text-anchor="middle" stroke="#000" stroke-width="0.2">(</text><text transform="translate(159.62,576.30) scale(1.100,1)" font-family="'Liberation Sans',sans-serif" font-weight="bold" font-size="24.00" text-anchor="middle">挂</text><text transform="translate(184.93,576.30) scale(1.100,1)" font-family="'Liberation Sans',sans-serif" font-weight="bold" font-size="24.00" text-anchor="middle">勾</text><text transform="translate(202.33,574.00) scale(0.920,1)" font-family="'Liberation Mono',monospace" font-weight="normal" font-size="25.00" text-anchor="middle" stroke="#000" stroke-width="0.2">)</text><text transform="translate(149.82,638.35) scale(0.920,1)" font-family="'Liberation Mono',monospace" font-weight="normal" font-size="25.00" text-anchor="middle" stroke="#000" stroke-width="0.2">(</text><text transform="translate(167.02,640.65) scale(1.100,1)" font-family="'Liberation Sans',sans-serif" font-weight="bold" font-size="24.00" text-anchor="middle">链</text><text transform="translate(193.10,640.65) scale(1.100,1)" font-family="'Liberation Sans',sans-serif" font-weight="bold" font-size="24.00" text-anchor="middle">条</text><text transform="translate(210.50,638.35) scale(0.920,1)" font-family="'Liberation Mono',monospace" font-weight="normal" font-size="25.00" text-anchor="middle" stroke="#000" stroke-width="0.2">)</text><text transform="translate(27.05,748.95) scale(0.920,1)" font-family="'Liberation Mono',monospace" font-weight="normal" font-size="25.00" text-anchor="middle" stroke="#000" stroke-width="0.2">(</text><text transform="translate(44.25,751.25) scale(1.100,1)" font-family="'Liberation Sans',sans-serif" font-weight="bold" font-size="24.00" text-anchor="middle">防</text><text transform="translate(71.18,751.25) scale(1.100,1)" font-family="'Liberation Sans',sans-serif" font-weight="bold" font-size="24.00" text-anchor="middle">爆</text><text transform="translate(98.12,751.25) scale(1.100,1)" font-family="'Liberation Sans',sans-serif" font-weight="bold" font-size="24.00" text-anchor="middle">荧</text><text transform="translate(125.05,751.25) scale(1.100,1)" font-family="'Liberation Sans',sans-serif" font-weight="bold" font-size="24.00" text-anchor="middle">光</text><text transform="translate(151.99,751.25) scale(1.100,1)" font-family="'Liberation Sans',sans-serif" font-weight="bold" font-size="24.00" text-anchor="middle">灯</text><text transform="translate(185.91,751.95) scale(0.920,1)" font-family="'Liberation Mono',monospace" font-weight="normal" font-size="25.00" text-anchor="middle" stroke="#000" stroke-width="0.5">C</text><text transform="translate(200.87,751.95) scale(0.920,1)" font-family="'Liberation Mono',monospace" font-weight="normal" font-size="25.00" text-anchor="middle" stroke="#000" stroke-width="0.5">B</text><text transform="translate(215.83,751.95) scale(0.920,1)" font-family="'Liberation Mono',monospace" font-weight="normal" font-size="25.00" text-anchor="middle" stroke="#000" stroke-width="0.5">Y</text><text transform="translate(226.68,748.95) scale(0.920,1)" font-family="'Liberation Mono',monospace" font-weight="normal" font-size="25.00" text-anchor="middle" stroke="#000" stroke-width="0.2">)</text><text transform="translate(119.83,986.65) scale(0.920,1)" font-family="'Liberation Mono',monospace" font-weight="normal" font-size="25.00" text-anchor="middle" stroke="#000" stroke-width="0.2">(</text><text transform="translate(137.03,988.95) scale(1.100,1)" font-family="'Liberation Sans',sans-serif" font-weight="bold" font-size="24.00" text-anchor="middle">安</text><text transform="translate(162.26,988.95) scale(1.100,1)" font-family="'Liberation Sans',sans-serif" font-weight="bold" font-size="24.00" text-anchor="middle">装</text><text transform="translate(187.48,988.95) scale(1.100,1)" font-family="'Liberation Sans',sans-serif" font-weight="bold" font-size="24.00" text-anchor="middle">架</text><text transform="translate(204.88,986.65) scale(0.920,1)" font-family="'Liberation Mono',monospace" font-weight="normal" font-size="25.00" text-anchor="middle" stroke="#000" stroke-width="0.2">)</text><text transform="translate(139.11,1035.75) scale(0.920,1)" font-family="'Liberation Mono',monospace" font-weight="normal" font-size="25.00" text-anchor="middle" stroke="#000" stroke-width="0.2">(</text><text transform="translate(156.31,1038.05) scale(1.100,1)" font-family="'Liberation Sans',sans-serif" font-weight="bold" font-size="24.00" text-anchor="middle">螺</text><text transform="translate(183.06,1038.05) scale(1.100,1)" font-family="'Liberation Sans',sans-serif" font-weight="bold" font-size="24.00" text-anchor="middle">杆</text><text transform="translate(203.87,1038.75) scale(0.920,1)" font-family="'Liberation Mono',monospace" font-weight="normal" font-size="25.00" text-anchor="middle" stroke="#000" stroke-width="0.5">M</text><text transform="translate(218.73,1038.75) scale(0.920,1)" font-family="'Liberation Mono',monospace" font-weight="normal" font-size="25.00" text-anchor="middle" stroke="#000" stroke-width="0.5">8</text><text transform="translate(229.58,1035.75) scale(0.920,1)" font-family="'Liberation Mono',monospace" font-weight="normal" font-size="25.00" text-anchor="middle" stroke="#000" stroke-width="0.2">)</text><text transform="translate(47.00,1123.45) scale(0.920,1)" font-family="'Liberation Mono',monospace" font-weight="normal" font-size="25.00" text-anchor="middle" stroke="#000" stroke-width="0.2">(</text><text transform="translate(64.20,1125.75) scale(1.100,1)" font-family="'Liberation Sans',sans-serif" font-weight="bold" font-size="24.00" text-anchor="middle">防</text><text transform="translate(91.07,1125.75) scale(1.100,1)" font-family="'Liberation Sans',sans-serif" font-weight="bold" font-size="24.00" text-anchor="middle">爆</text><text transform="translate(117.94,1125.75) scale(1.100,1)" font-family="'Liberation Sans',sans-serif" font-weight="bold" font-size="24.00" text-anchor="middle">荧</text><text transform="translate(144.81,1125.75) scale(1.100,1)" font-family="'Liberation Sans',sans-serif" font-weight="bold" font-size="24.00" text-anchor="middle">光</text><text transform="translate(171.68,1125.75) scale(1.100,1)" font-family="'Liberation Sans',sans-serif" font-weight="bold" font-size="24.00" text-anchor="middle">灯</text><text transform="translate(205.51,1126.45) scale(0.920,1)" font-family="'Liberation Mono',monospace" font-weight="normal" font-size="25.00" text-anchor="middle" stroke="#000" stroke-width="0.5">C</text><text transform="translate(220.44,1126.45) scale(0.920,1)" font-family="'Liberation Mono',monospace" font-weight="normal" font-size="25.00" text-anchor="middle" stroke="#000" stroke-width="0.5">B</text><text transform="translate(235.37,1126.45) scale(0.920,1)" font-family="'Liberation Mono',monospace" font-weight="normal" font-size="25.00" text-anchor="middle" stroke="#000" stroke-width="0.5">Y</text><text transform="translate(246.22,1123.45) scale(0.920,1)" font-family="'Liberation Mono',monospace" font-weight="normal" font-size="25.00" text-anchor="middle" stroke="#000" stroke-width="0.2">)</text><text x="614.37" y="376.20" font-family="'Liberation Sans',sans-serif" text-anchor="middle" font-weight="bold" font-size="34.5">吊</text><text x="650.70" y="376.20" font-family="'Liberation Sans',sans-serif" text-anchor="middle" font-weight="bold" font-size="34.5">杆</text><text x="687.03" y="376.20" font-family="'Liberation Sans',sans-serif" text-anchor="middle" font-weight="bold" font-size="34.5">式</text><text x="716.62" y="372.70" font-family="'Liberation Sans',sans-serif" text-anchor="middle" font-size="34" stroke="#000" stroke-width="0.4">(</text><text x="731.42" y="374.70" font-family="'Liberation Sans',sans-serif" text-anchor="middle" font-size="31" stroke="#000" stroke-width="0.6">g</text><text x="746.22" y="372.70" font-family="'Liberation Sans',sans-serif" text-anchor="middle" font-size="34" stroke="#000" stroke-width="0.4">)</text><text x="657.57" y="818.85" font-family="'Liberation Sans',sans-serif" text-anchor="middle" font-weight="bold" font-size="34.5">吊</text><text x="693.90" y="818.85" font-family="'Liberation Sans',sans-serif" text-anchor="middle" font-weight="bold" font-size="34.5">链</text><text x="730.23" y="818.85" font-family="'Liberation Sans',sans-serif" text-anchor="middle" font-weight="bold" font-size="34.5">式</text><text x="759.82" y="815.35" font-family="'Liberation Sans',sans-serif" text-anchor="middle" font-size="34" stroke="#000" stroke-width="0.4">(</text><text x="774.62" y="817.35" font-family="'Liberation Sans',sans-serif" text-anchor="middle" font-size="31" stroke="#000" stroke-width="0.6">L</text><text x="789.42" y="815.35" font-family="'Liberation Sans',sans-serif" text-anchor="middle" font-size="34" stroke="#000" stroke-width="0.4">)</text><text x="617.11" y="1211.30" font-family="'Liberation Sans',sans-serif" text-anchor="middle" font-weight="bold" font-size="34.5">吸</text><text x="652.74" y="1211.30" font-family="'Liberation Sans',sans-serif" text-anchor="middle" font-weight="bold" font-size="34.5">顶</text><text x="688.36" y="1211.30" font-family="'Liberation Sans',sans-serif" text-anchor="middle" font-weight="bold" font-size="34.5">式</text><text x="717.38" y="1207.80" font-family="'Liberation Sans',sans-serif" text-anchor="middle" font-size="34" stroke="#000" stroke-width="0.4">(</text><text x="731.89" y="1209.80" font-family="'Liberation Sans',sans-serif" text-anchor="middle" font-size="31" stroke="#000" stroke-width="0.6">x</text><text x="746.40" y="1207.80" font-family="'Liberation Sans',sans-serif" text-anchor="middle" font-size="34" stroke="#000" stroke-width="0.4">)</text><text x="1557.69" y="1059.45" font-family="'Liberation Sans',sans-serif" text-anchor="middle" font-weight="bold" font-size="34.5">护</text><text x="1594.44" y="1059.45" font-family="'Liberation Sans',sans-serif" text-anchor="middle" font-weight="bold" font-size="34.5">栏</text><text x="1631.19" y="1059.45" font-family="'Liberation Sans',sans-serif" text-anchor="middle" font-weight="bold" font-size="34.5">式</text><text x="1661.12" y="1055.95" font-family="'Liberation Sans',sans-serif" text-anchor="middle" font-size="34" stroke="#000" stroke-width="0.4">(</text><text x="1676.09" y="1057.95" font-family="'Liberation Sans',sans-serif" text-anchor="middle" font-size="31" stroke="#000" stroke-width="0.6">h</text><text x="1691.06" y="1055.95" font-family="'Liberation Sans',sans-serif" text-anchor="middle" font-size="34" stroke="#000" stroke-width="0.4">)</text><text x="514.68" y="2123.15" font-family="'Liberation Sans',sans-serif" text-anchor="middle" font-weight="bold" font-size="34.5">弯</text><text x="551.92" y="2123.15" font-family="'Liberation Sans',sans-serif" text-anchor="middle" font-weight="bold" font-size="34.5">杆</text><text x="589.16" y="2123.15" font-family="'Liberation Sans',sans-serif" text-anchor="middle" font-weight="bold" font-size="34.5">式</text><text x="619.49" y="2119.65" font-family="'Liberation Sans',sans-serif" text-anchor="middle" font-size="34" stroke="#000" stroke-width="0.4">(</text><text x="634.66" y="2121.65" font-family="'Liberation Sans',sans-serif" text-anchor="middle" font-size="31" stroke="#000" stroke-width="0.6">w</text><text x="649.83" y="2119.65" font-family="'Liberation Sans',sans-serif" text-anchor="middle" font-size="34" stroke="#000" stroke-width="0.4">)</text><text x="1475.99" y="2119.05" font-family="'Liberation Sans',sans-serif" text-anchor="middle" font-weight="bold" font-size="34.5">法</text><text x="1512.98" y="2119.05" font-family="'Liberation Sans',sans-serif" text-anchor="middle" font-weight="bold" font-size="34.5">兰</text><text x="1549.97" y="2119.05" font-family="'Liberation Sans',sans-serif" text-anchor="middle" font-weight="bold" font-size="34.5">式</text><text x="1580.11" y="2115.55" font-family="'Liberation Sans',sans-serif" text-anchor="middle" font-size="34" stroke="#000" stroke-width="0.4">(</text><text x="1595.18" y="2117.55" font-family="'Liberation Sans',sans-serif" text-anchor="middle" font-size="31" stroke="#000" stroke-width="0.6">h</text><text x="1610.24" y="2115.55" font-family="'Liberation Sans',sans-serif" text-anchor="middle" font-size="34" stroke="#000" stroke-width="0.4">)</text></g>
<g fill="#000" stroke="none" font-family="Liberation Sans, sans-serif"><text transform="translate(1102.4,626.5) rotate(-90)" font-size="27.5">300</text><text transform="translate(1130.0,1031.0) rotate(-90)" font-size="27.5">100</text><text transform="translate(1354.0,710.0) rotate(-90)" font-size="29.0">2230</text><text transform="translate(406.0,1812.0) rotate(-90)" font-size="29.0">2230</text><text transform="translate(1241.4,1686.5) rotate(-90)" font-size="29.0">2230</text><text transform="translate(1840.7,1770.5) rotate(-90)" font-size="27.5">150</text><text transform="translate(1872.7,1772.5) rotate(-90)" font-size="27.5">220</text><text x="1730.0" y="1835.0" font-size="27.5">150</text><text x="1727.5" y="1868.0" font-size="27.5">220</text><text x="1833" y="1660" font-size="25" stroke="#000" stroke-width="0.5">4-</text><text transform="translate(1871,1660) skewX(-12)" font-size="25" text-anchor="middle" stroke="#000" stroke-width="0.3">&#981;</text><text x="1886.5" y="1660" font-size="25.5" stroke="#000" stroke-width="0.5">14</text></g>
</svg>
</body></html>
